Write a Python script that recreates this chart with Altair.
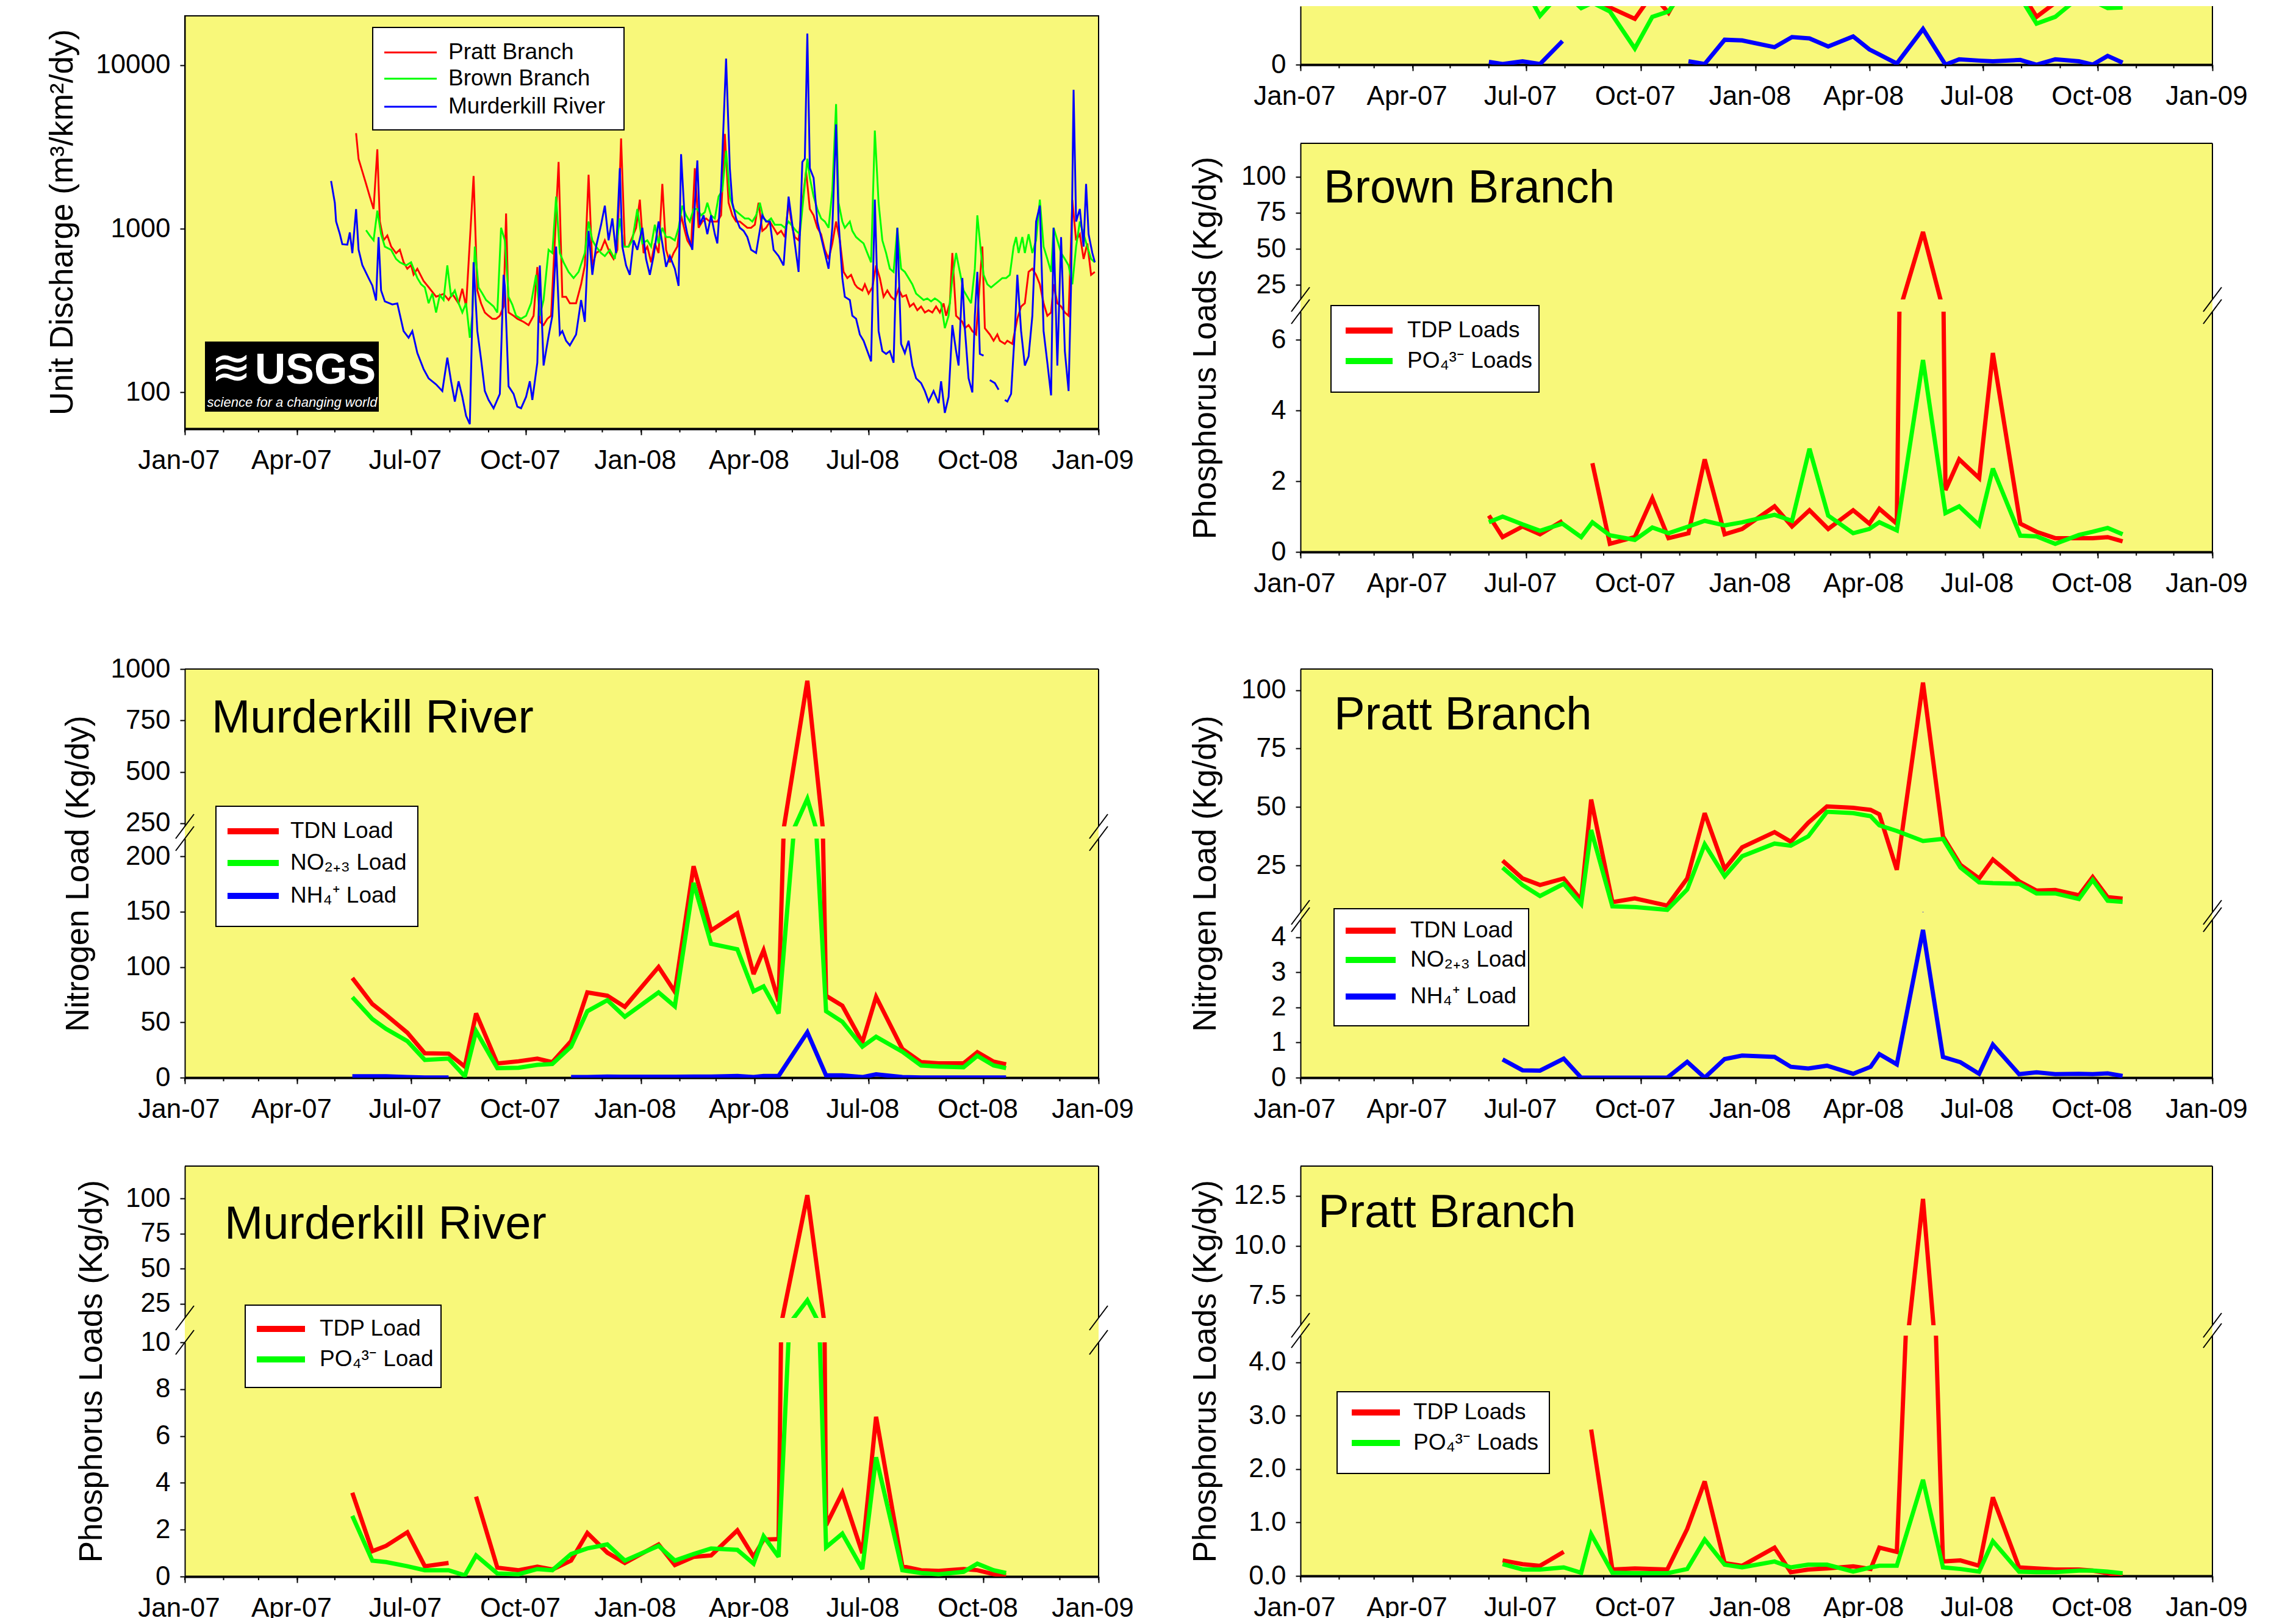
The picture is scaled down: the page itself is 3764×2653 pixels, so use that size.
import altair as alt
import pandas as pd

# ------------------------------------------------------------------ DATA
# Unit discharge (m3/km2/dy): (days since 2007-01-01, value); None = gap
pratt_q = [(137,3840),(139,2670),(142,2240),(145,1880),(148,1570),(151,1320),(154,3060),(156,1110),(159,850),(162,910),(165,780),(169,710),(172,745),(175,625),(178,570),(181,600),(183,525),(186,570),(191,480),(195,440),(201,385),(207,400),(211,367),(214,400),(219,350),(222,430),(225,335),(231,2100),(234,420),(237,350),(240,308),(243,294),(246,282),(249,282),(252,294),(255,335),(257,1240),(259,308),(263,294),(266,282),(271,270),(275,258),(279,294),(282,584),(284,270),(287,258),(290,282),(293,294),(296,850),(299,2560),(302,384),(305,384),(308,351),(313,351),(317,458),(320,597),(323,2140),(326,597),(329,711),(333,744),(336,850),(340,711),(343,654),(346,744),(349,3560),(352,778),(355,778),(358,890),(361,1014),(364,1506),(367,711),(370,778),(373,624),(376,814),(379,711),(382,1880),(385,744),(388,624),(391,711),(394,778),(397,1208),(400,971),(402,850),(405,778),(408,2344),(411,1014),(414,1107),(417,1157),(420,1107),(423,1107),(426,1107),(429,1208),(432,3800),(435,1442),(438,1208),(441,1107),(444,1107),(447,1059),(450,1014),(453,1014),(456,1059),(459,1442),(462,971),(465,1014),(468,1107),(471,1014),(474,927),(477,971),(480,890),(483,1442),(486,1014),(488,890),(491,850),(494,1442),(497,2240),(500,1321),(503,1208),(506,1014),(509,927),(512,744),(515,654),(518,814),(521,1107),(524,850),(527,545),(530,500),(533,523),(536,458),(538,438),(542,420),(544,458),(547,402),(550,438),(553,597),(556,500),(559,384),(562,420),(565,384),(568,367),(571,429),(574,384),(577,393),(580,335),(583,350),(586,318),(589,335),(592,308),(595,318),(598,308),(601,335),(604,308),(607,350),(609,294),(612,351),(614,711),(617,294),(622,270),(624,247),(627,258),(630,237),(633,226),(638,778),(640,247),(644,226),(647,207),(650,226),(652,207),(656,198),(658,207),(662,198),(666,282),(669,335),(672,351),(675,545),(678,570),(681,523),(684,458),(687,351),(690,294),(693,308),(695,458),(698,351),(701,335),(704,308),(707,294),(710,1500),(713,850),(716,927),(719,654),(722,814),(725,523),(728,545)]

brown_q = [(145,980),(148,908),(151,850),(154,1290),(157,927),(160,778),(165,744),(169,654),(172,624),(177,597),(181,624),(183,570),(186,500),(189,458),(192,438),(195,351),(198,402),(201,308),(204,393),(207,367),(210,597),(213,384),(216,420),(219,351),(222,308),(225,351),(228,216),(230,294),(232,778),(235,438),(238,402),(241,367),(244,351),(247,335),(250,308),(253,1014),(256,850),(259,384),(262,344),(265,294),(269,282),(273,294),(277,351),(281,523),(284,294),(287,367),(291,744),(294,711),(297,1574),(300,711),(303,624),(307,545),(311,500),(315,545),(320,711),(323,1107),(326,850),(329,778),(333,711),(336,681),(340,744),(344,654),(348,1157),(351,778),(355,778),(358,850),(362,1321),(366,814),(370,850),(373,778),(376,1059),(379,814),(382,1014),(385,890),(388,890),(392,850),(395,1014),(398,1385),(401,1208),(404,1107),(407,1321),(410,1321),(413,1208),(416,1263),(418,1442),(421,1208),(424,1157),(427,1574),(430,1720),(433,3000),(436,1574),(439,1321),(442,1263),(445,1208),(448,1157),(451,1157),(454,1107),(457,1208),(460,1442),(463,1157),(466,1107),(469,1157),(472,1059),(474,1059),(477,1059),(480,1014),(483,1107),(487,1014),(489,971),(492,927),(495,1574),(498,2680),(500,2048),(503,1574),(506,1321),(509,1157),(512,1107),(515,1014),(518,1720),(521,5780),(523,1442),(526,1107),(528,1014),(532,1107),(534,971),(537,890),(540,850),(543,814),(546,711),(549,624),(552,3980),(555,1442),(558,850),(561,711),(564,570),(567,545),(570,1014),(573,570),(576,545),(579,500),(582,458),(585,402),(588,384),(591,367),(594,375),(597,360),(600,375),(602,367),(605,351),(608,247),(611,294),(614,500),(617,711),(620,545),(623,420),(626,384),(629,351),(632,570),(634,1208),(637,711),(639,523),(642,458),(645,438),(648,458),(651,478),(654,500),(657,500),(660,523),(663,778),(665,890),(667,711),(670,890),(672,711),(675,927),(678,711),(681,850),(684,1506),(687,778),(690,654),(693,545),(695,1014),(698,850),(701,711),(704,654),(707,597),(710,458),(713,778),(716,1107),(719,927),(722,778),(725,654),(728,624)]

murder_q = [(117,1960),(120,1440),(121,1110),(124,930),(126,805),(130,800),(132,950),(134,710),(137,1320),(139,745),(142,600),(147,500),(150,450),(153,365),(155,890),(157,420),(160,360),(166,345),(170,350),(175,237),(179,216),(182,237),(186,174),(191,139),(195,122),(201,112),(206,102),(210,163),(213,117),(216,88),(219,117),(222,94),(225,72),(228,64),(231,624),(234,237),(237,159),(240,102),(243,90),(247,80),(252,98),(255,523),(256,448),(259,109),(263,98),(266,82),(269,80),(273,94),(276,117),(278,90),(282,152),(284,597),(287,146),(291,221),(294,294),(297,778),(300,226),(302,237),(305,207),(308,194),(313,226),(317,367),(320,270),(323,971),(326,523),(329,778),(333,1059),(336,1385),(339,850),(342,1157),(345,711),(348,2344),(350,778),(353,597),(356,523),(359,850),(362,744),(366,1014),(369,654),(372,523),(375,681),(379,1107),(382,814),(385,585),(388,681),(392,570),(395,448),(397,2857),(400,1107),(402,927),(406,744),(410,2618),(412,1059),(415,1208),(418,927),(421,1208),(424,927),(426,814),(429,1798),(433,10970),(436,2344),(438,1442),(441,1157),(444,1014),(447,971),(450,890),(453,744),(457,711),(462,1208),(465,1107),(468,1107),(471,744),(475,681),(479,597),(483,1573),(487,927),(491,545),(494,2560),(496,2680),(498,15600),(500,2344),(503,2048),(506,1107),(509,890),(512,711),(515,570),(518,1014),(521,4345),(523,1107),(526,500),(528,384),(532,367),(534,294),(537,282),(540,226),(543,207),(546,179),(549,155),(552,1506),(555,237),(558,179),(561,172),(564,179),(567,152),(570,1014),(573,198),(576,174),(579,207),(582,146),(585,122),(589,114),(592,102),(595,88),(599,102),(603,86),(605,117),(608,75),(611,94),(614,258),(617,179),(619,146),(622,500),(624,247),(627,122),(630,100),(632,294),(634,545),(636,172),(639,168),(641,None),(644,119),(648,114),(651,104),(653,None),(656,90),(658,88),(661,98),(664,237),(666,523),(669,237),(672,146),(675,166),(678,294),(681,1107),(684,1385),(687,237),(690,152),(693,96),(695,1014),(698,146),(701,890),(704,179),(707,102),(709,458),(711,7063),(713,1107),(716,1321),(719,778),(721,1880),(723,927),(726,711),(728,624)]

# Sampling dates
mk_dates = ["2007-05-15","2007-05-31","2007-06-11","2007-06-28","2007-07-12","2007-07-31","2007-08-13","2007-08-22","2007-09-08","2007-09-25","2007-10-10","2007-10-22","2007-11-06","2007-11-19","2007-12-05","2007-12-19","2008-01-15","2008-01-28","2008-02-12","2008-02-26","2008-03-18","2008-03-31","2008-04-08","2008-04-20","2008-05-13","2008-05-28","2008-06-10","2008-06-26","2008-07-07","2008-07-28","2008-08-12","2008-08-26","2008-09-15","2008-09-26","2008-10-09","2008-10-19"]
pratt_dates = ["2007-06-12","2007-06-28","2007-07-12","2007-07-31","2007-08-14","2007-08-22","2007-09-08","2007-09-26","2007-10-22","2007-11-07","2007-11-21","2007-12-07","2007-12-21","2008-01-16","2008-01-29","2008-02-12","2008-02-27","2008-03-19","2008-04-02","2008-04-09","2008-04-23","2008-05-14","2008-05-30","2008-06-13","2008-06-28","2008-07-09","2008-07-30","2008-08-13","2008-08-28","2008-09-16","2008-09-27","2008-10-09","2008-10-21"]
brown_dates = ["2007-06-01","2007-06-12","2007-06-28","2007-07-12","2007-07-30","2007-08-14","2007-08-23","2007-09-06","2007-09-26","2007-10-10","2007-10-23","2007-11-08","2007-11-21","2007-12-07","2007-12-21","2008-01-16","2008-01-30","2008-02-13","2008-02-28","2008-03-19","2008-04-01","2008-04-09","2008-04-23","2008-05-14","2008-06-01","2008-06-12","2008-06-28","2008-07-09","2008-07-31","2008-08-13","2008-08-28","2008-09-16","2008-09-27","2008-10-09","2008-10-21"]

# Murderkill River loads (kg/dy)
mk_tdn = [90,66.5,56.7,40.6,22,21.7,10,58,12.8,14.8,17.2,14,33,77,74,64,100,77.6,191,133,148.5,93.6,115,69,943,74,65,32,73,26,14,13,13,23,14.5,12]
mk_no23 = [72.7,53,44,33,16,17.2,1.2,42,8.6,9,11.6,12.3,28,60,70,55,77,64.5,176,121,116,78,82.5,58,369,60,50.5,28,37,23.4,11,10,9.4,19.7,11,8.6]
mk_nh4 = [1.2,1.2,1.2,0.5,0.1,0.1,None,None,None,None,None,None,0.5,0.5,1,0.8,0.8,0.8,1,1,1.5,0.5,1.5,1.5,41,2,2,0.5,3,0.5,0.2,0.2,0.2,0.2,0.2,0.2]
mk_tdp = [3.58,1.08,1.31,1.89,0.44,0.58,None,3.41,0.38,0.27,0.42,0.3,0.68,1.86,1.02,0.58,1.37,0.49,0.84,0.9,1.97,0.84,1.58,1.6,102.3,2.19,3.58,1.0,6.82,0.44,0.27,0.24,0.32,0.27,0.1,0.05]
mk_po4 = [2.59,0.68,0.62,0.44,0.27,0.27,0.05,0.9,0.13,0.1,0.32,0.27,0.96,1.2,1.37,0.68,1.31,0.68,0.96,1.2,1.14,0.55,1.72,0.84,27.6,1.25,1.83,0.32,5.09,0.27,0.15,0.1,0.2,0.55,0.27,0.15]

# Pratt Branch loads
pr_tdn = [27.1,19.5,16.7,19.5,10.3,53.2,9.4,11,7.9,19.5,47.4,23.6,32.8,39.3,35.2,43.3,50.3,49.7,48.8,46.9,23.2,103.2,37.5,25.3,19.5,27.6,18.3,14.3,14.6,12.3,20.1,11.5,10.9]
pr_no23 = [24.1,16.7,12,17.2,8.5,40.2,7.6,7.3,6.1,14.8,34.1,20.4,29,34.4,33.5,37.5,48,47.4,46.1,42.2,39.8,35.5,36.4,24.2,17.8,17.5,17.2,13.1,13.1,10.7,18.8,10.0,9.5]
pr_nh4 = [0.52,0.21,0.2,0.54,0,0,0,0,0,0.45,0,0.53,0.63,0.59,0.31,0.26,0.34,0.11,0.31,0.67,0.38,4.21,0.59,0.44,0.11,0.94,0.1,0.15,0.1,0.11,0.1,0.12,0.05]
pr_tdp = [0.29,0.22,0.19,0.45,None,2.74,0.12,0.14,0.12,0.88,1.77,0.24,0.19,0.53,0.07,0.12,0.14,0.18,0.13,0.53,0.45,12.35,0.27,0.29,0.19,1.47,0.16,0.14,0.12,0.12,0.1,0.05,0.0]
pr_po4 = [0.22,0.12,0.12,0.16,0.06,0.78,0.06,0.05,0.05,0.13,0.68,0.21,0.16,0.27,0.16,0.21,0.21,0.08,0.16,0.19,0.19,1.8,0.16,0.13,0.08,0.65,0.08,0.07,0.07,0.1,0.1,0.08,0.05]

# Brown Branch loads
br_tdn = [150,140,135,125,130,115,98,85,68,105,77,130,160,170,180,190,200,210,215,205,190,180,170,240,190,160,150,130,110,71,92,120,110,99,97]
br_no23 = [140,130,120,72.6,110,84,92,79,24,71,79,120,150,160,170,180,190,200,205,195,180,170,160,200,180,150,140,120,100,61,71,100,95,84,85]
br_nh4 = [4,1,5,1,35,None,None,None,None,None,None,5,1,37,36,26,41,39,27,42,22.6,15,1.6,53,0,8,6,5,7,0,8,5,0,13,3]
br_tdp = [1.03,0.42,0.72,0.5,0.88,None,2.51,0.23,0.42,1.52,0.39,0.53,2.62,0.5,0.65,1.29,0.72,1.18,0.65,1.18,0.8,1.22,0.8,61.7,1.75,2.62,2.09,5.63,0.8,0.57,0.39,0.39,0.39,0.42,0.3]
br_po4 = [0.84,1.0,0.78,0.6,0.8,0.42,0.84,0.47,0.34,0.69,0.53,0.72,0.88,0.75,0.84,1.05,0.88,2.92,1.03,0.53,0.65,0.84,0.61,5.43,1.1,1.29,0.76,2.36,0.46,0.44,0.23,0.48,0.57,0.68,0.5]

site_names = ["Pratt Branch", "Brown Branch", "Murderkill River"]
n_labels = ["TDN Load", "NO\u2082\u208a\u2083 Load", "NH\u2084\u207a Load"]
p_labels_mk = ["TDP Load", "PO\u2084\u00b3\u207b Load"]
p_labels = ["TDP Loads", "PO\u2084\u00b3\u207b Loads"]
x_tick_months = [(2007,1),(2007,4),(2007,7),(2007,10),(2008,1),(2008,4),(2008,7),(2008,10),(2009,1)]

# ------------------------------------------------------------------ STYLE
YEL = "#F8F87A"
RED, GREEN, BLUE = "#FF0000", "#00FF00", "#0000FF"
NARROW = "Liberation Sans, Arial, sans-serif"
SANS = "Liberation Sans, Arial, sans-serif"
TICK_FS = 44
LEG_FS = 37
PT_FS = 76
LW = 7
WL, WR = 1498, 1495
T0 = pd.Timestamp("2007-01-01")
DUMMY = pd.DataFrame({"k": [0]})

def long_df(dates, series):
    rows = []
    for name, vals in series:
        seg = 0
        for d, v in zip(dates, vals):
            if v is None:
                seg += 1
                continue
            rows.append({"date": pd.Timestamp(d), "value": v, "series": name, "seg": seg})
    return pd.DataFrame(rows)

def pairs_df(series):
    rows = []
    for name, pairs in series:
        seg = 0
        for day, v in pairs:
            if v is None:
                seg += 1
                continue
            rows.append({"date": T0 + pd.Timedelta(days=day), "value": v, "series": name, "seg": seg})
    return pd.DataFrame(rows)

XS = alt.Scale(domain=[alt.DateTime(year=2007, month=1, date=1), alt.DateTime(year=2009, month=1, date=1)])
XAXIS = alt.Axis(values=[alt.DateTime(year=y, month=m, date=1) for y, m in x_tick_months],
                 format="%b-%y", title=None, labelFont=NARROW, labelFontSize=TICK_FS, labelPadding=20,
                 labelOffset=-10, labelFlush=False, labelOverlap=False, tickSize=10, tickWidth=2,
                 domainWidth=4, grid=False, labelColor="black", tickColor="black", domainColor="black")
MONTHS = pd.DataFrame({"date": pd.date_range("2007-01-01", "2009-01-01", freq="MS")})

def yaxis(values, fmt, title=None, tx=0, ty=0):
    kw = dict(values=values, format=fmt, labelFont=NARROW, labelFontSize=TICK_FS, labelPadding=16,
              tickSize=8, tickWidth=2, domainWidth=2, grid=False, labelOverlap=False,
              labelColor="black", tickColor="black", domainColor="black")
    if title:
        kw.update(title=title, titleX=tx, titleY=ty, titleFont=SANS, titleFontSize=53,
                  titleFontWeight="normal", titleBaseline="middle", titleAlign="center",
                  titleAngle=270, titleLimit=3000, titleColor="black")
    else:
        kw["title"] = None
    return alt.Axis(**kw)

def lines(df, specs, yscale, yax, xax, width):
    out = []
    for name, color in specs:
        out.append(alt.Chart(df).transform_filter(alt.datum.series == name)
                   .mark_line(color=color, strokeWidth=width, clip=True, strokeMiterLimit=3)
                   .encode(x=alt.X("date:T", scale=XS, axis=xax),
                           y=alt.Y("value:Q", scale=yscale, axis=yax),
                           detail="seg:N"))
    return out

def minor_ticks(h):
    return (alt.Chart(MONTHS).mark_rule(color="black", strokeWidth=2)
            .encode(x=alt.X("date:T", scale=XS, axis=XAXIS), y=alt.value(h), y2=alt.value(h + 6)))

def hrule(x0, x1, y, color="black", w=2, opacity=1):
    return alt.Chart(DUMMY).mark_rule(color=color, strokeWidth=w, opacity=opacity).encode(
        x=alt.value(x0), x2=alt.value(x1), y=alt.value(y))

def vrule(x, y0, y1, color="black", w=2):
    return alt.Chart(DUMMY).mark_rule(color=color, strokeWidth=w).encode(
        x=alt.value(x), y=alt.value(y0), y2=alt.value(y1))

def segment(x0, y0, x1, y1):
    return alt.Chart(DUMMY).mark_rule(color="black", strokeWidth=2).encode(
        x=alt.value(x0), y=alt.value(y0), x2=alt.value(x1), y2=alt.value(y1))

def text(x, y, s, size, font=NARROW, color="black", align="left", weight="normal", style="normal"):
    return alt.Chart(DUMMY).mark_text(text=s, font=font, fontSize=size, align=align, baseline="middle",
                                      color=color, fontWeight=weight, fontStyle=style).encode(
        x=alt.value(x), y=alt.value(y))

def box(x0, y0, x1, y1, fill="white", stroke="black"):
    return alt.Chart(DUMMY).mark_rect(fill=fill, stroke=stroke, strokeWidth=2).encode(
        x=alt.value(x0), x2=alt.value(x1), y=alt.value(y0), y2=alt.value(y1))

def legend(bx, rows, lx, tx, size=LEG_FS, lw=10):
    out = [box(*bx)]
    for label, color, y in rows:
        out.append(hrule(lx[0], lx[1], y, color, lw))
        out.append(text(tx, y, label, size))
    return out

def slashes(W, g):
    out = []
    for x in (0, W):
        for yc in (-g, 0):
            out.append(segment(x - 15, yc + 20, x + 15, yc - 20))
    return out

def view(h, W, stroke="transparent"):
    return dict(width=W, height=h, view=alt.ViewBackground(fill=YEL, stroke=stroke, strokeWidth=2))

def spacer(W, h):
    return alt.Chart(DUMMY).mark_point(opacity=0).properties(width=W, height=h)

def broken(df, specs, W, U, hU, g, L, hL, uticks, lticks, fmt, ptitle, ppos, ytitle, ypos, leg):
    ysU = alt.Scale(domain=U, nice=False, zero=False)
    ysL = alt.Scale(domain=L, nice=False, zero=False)
    up = alt.layer(*(lines(df, specs, ysU, yaxis(uticks, fmt), None, LW)
                     + [hrule(0, W, 0), vrule(W, 0, hU), text(ppos[0], ppos[1], ptitle, PT_FS)])
                   ).properties(**view(hU, W))
    gap = alt.Chart(DUMMY).mark_point(opacity=0).properties(**view(g, W))
    lo = alt.layer(*(lines(df, specs, ysL, yaxis(lticks, fmt, ytitle, ypos[0], ypos[1]), XAXIS, LW)
                     + [minor_ticks(hL), vrule(W, 0, hL)] + slashes(W, g) + legend(*leg))
                   ).properties(**view(hL, W))
    return [up, gap, lo]

N_SPECS = [("TDN", RED), ("NO23", GREEN), ("NH4", BLUE)]
P_SPECS = [("TDP", RED), ("PO4", GREEN)]

# ------------------------------------------------------------------ PANELS
dis_df = pairs_df([(site_names[0], pratt_q), (site_names[1], brown_q), (site_names[2], murder_q)])
tl = alt.layer(*(
    lines(dis_df, [(site_names[0], RED), (site_names[1], GREEN), (site_names[2], BLUE)],
          alt.Scale(type="log", domain=[60, 20000], nice=False),
          yaxis([100, 1000, 10000], "d", "Unit Discharge (m\u00b3/km\u00b2/dy)", -201, 338), XAXIS, 3)
    + [minor_ticks(677), hrule(WL, WL + 100, 0, "white", 1, 0)]
    + legend((308, 19, 720, 187), [(site_names[0], RED, 60), (site_names[1], GREEN, 103), (site_names[2], BLUE, 149)],
             (327, 413), 432, LEG_FS, 3)
    + [box(34, 535, 317, 648, "black", "black"),
       text(214, 582, "USGS", 70, NARROW, "white", "center", "bold"),
       text(76, 580, "\u224b", 80, "DejaVu Sans", "white", "center"),
       text(176, 634, "science for a changing world", 22, NARROW, "white", "center", "normal", "italic")]
)).properties(**view(677, WL, "black"))

brn_n_df = long_df(brown_dates, [("TDN", br_tdn), ("NO23", br_no23), ("NH4", br_nh4)])
tr = alt.layer(*(lines(brn_n_df, N_SPECS, alt.Scale(domain=[0, 87], nice=False), yaxis([0], "d"), XAXIS, LW)
                 + [minor_ticks(96), vrule(WR, 0, 96)])).properties(**view(96, WR))

bp = broken(long_df(brown_dates, [("TDP", br_tdp), ("PO4", br_po4)]), P_SPECS, WR,
            [15, 123], 256, 20, [0, 6.8], 394, [25, 50, 75, 100], [0, 2, 4, 6], "d",
            "Brown Branch", (38, 74), "Phosphorus Loads (Kg/dy)", (-156, 59),
            ((50, -10, 391, 132), [(p_labels[0], RED, 31), (p_labels[1], GREEN, 81)], (74, 151), 175))

mkn = broken(long_df(mk_dates, [("TDN", mk_tdn), ("NO23", mk_no23), ("NH4", mk_nh4)]), N_SPECS, WL,
             [235, 1000], 258, 20, [0, 216], 392, [250, 500, 750, 1000], [0, 50, 100, 150, 200], "d",
             "Murderkill River", (44, 81), "Nitrogen Load (Kg/dy)", (-175, 57),
             ((51, -53, 382, 144), [(n_labels[0], RED, -12), (n_labels[1], GREEN, 40), (n_labels[2], BLUE, 94)],
              (70, 154), 173))

prn = broken(long_df(pratt_dates, [("TDN", pr_tdn), ("NO23", pr_no23), ("NH4", pr_nh4)]), N_SPECS, WR,
             [5, 109], 399, 12, [0, 4.5], 259, [25, 50, 75, 100], [0, 1, 2, 3, 4], "d",
             "Pratt Branch", (55, 76), "Nitrogen Load (Kg/dy)", (-156, -76),
             ((55, -18, 374, 174), [(n_labels[0], RED, 18), (n_labels[1], GREEN, 66), (n_labels[2], BLUE, 126)],
              (74, 156), 180))

mkp = broken(long_df(mk_dates, [("TDP", mk_tdp), ("PO4", mk_po4)]), P_SPECS, WL,
             [15, 123], 249, 40, [0, 10], 384, [25, 50, 75, 100], [0, 2, 4, 6, 8, 10], "d",
             "Murderkill River", (65, 96), "Phosphorus Loads (Kg/dy)", (-153, 47),
             ((99, -61, 420, 74), [(p_labels_mk[0], RED, -22), (p_labels_mk[1], GREEN, 28)], (118, 197), 221))

prp = broken(long_df(pratt_dates, [("TDP", pr_tdp), ("PO4", pr_po4)]), P_SPECS, WR,
             [6, 14], 261, 17, [0, 4.5], 394, [7.5, 10.0, 12.5], [0, 1, 2, 3, 4], ".1f",
             "Pratt Branch", (29, 77), "Phosphorus Loads (Kg/dy)", (-156, 58),
             ((60, 92, 408, 226), [(p_labels[0], RED, 126), (p_labels[1], GREEN, 176)], (84, 163), 185))

left = alt.vconcat(*([spacer(WL, 16), tl, spacer(WL, 394)] + mkn + [spacer(WL, 145)] + mkp),
                   spacing=0, bounds="flush")
right = alt.vconcat(*([tr, spacer(WR, 129)] + bp + [spacer(WR, 192)] + prn + [spacer(WR, 145)] + prp),
                    spacing=0, bounds="flush")

chart = (alt.hconcat(left, right, spacing=46)
         .properties(padding={"left": 67, "top": 0, "right": 10, "bottom": 10})
         .configure_view(stroke="transparent")
         .configure(background="white"))

chart.save("out.html", embed_options={"renderer": "svg", "actions": False})
